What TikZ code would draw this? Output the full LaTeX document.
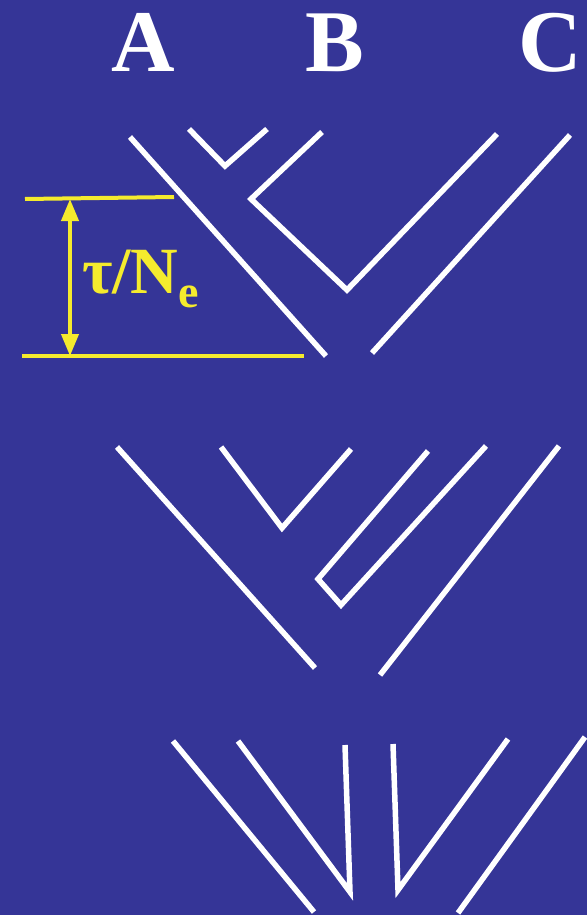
\documentclass[tikz,border=0pt]{standalone}
\usepackage{fontspec}
\setmainfont{Liberation Serif}
\usetikzlibrary{arrows.meta}
\definecolor{bg}{RGB}{53,53,151}
\definecolor{yel}{RGB}{245,235,45}
\tikzset{
  branch/.style={draw=white, line width=5.5pt},
  ybar/.style={draw=yel, line width=4pt},
  head/.style={text=white, font=\fontsize{88}{88}\selectfont\bfseries, inner sep=0pt, anchor=base}
}
\begin{document}
\begin{tikzpicture}[x=1pt,y=-1pt]
\fill[bg] (0,0) rectangle (587,915);
\useasboundingbox (0,0) rectangle (587,915);
% labels
\node[head] (lA) at (143,72) {A};
\node[head] (lB) at (335,72) {B};
\node[head] (lC) at (550,72) {C};
% top tree
\draw[branch] (130,137) -- (326,356);
\draw[branch] (189,129) -- (225,166) -- (267,129);
\draw[branch] (322,132) -- (251,199) -- (347,290) -- (497,134);
\draw[branch] (570,135) -- (372,353);
% scale bar
\draw[ybar] (25,199) -- (174,197);
\draw[ybar] (22,356) -- (304,356);
\coordinate (t1) at (70,199);
\coordinate (t2) at (70,356);
\draw[yel, line width=4pt, {Triangle[width=17pt,length=22pt]}-{Triangle[width=17pt,length=22pt]}] (t1) -- (t2);
\node[text=yel, inner sep=0pt, anchor=base west, font=\fontsize{66}{66}\selectfont\bfseries] (lab) at (82,293) {τ/N\raisebox{-14pt}{\fontsize{46}{46}\selectfont\bfseries e}};
% middle tree
\draw[branch] (117,447) -- (315,668);
\draw[branch] (221,447) -- (282,528) -- (351,449);
\draw[branch] (428,451) -- (318,579) -- (341,605) -- (486,446);
\draw[branch] (559,446) -- (380,675);
% bottom tree
\draw[branch] (173,741) -- (314,912);
\draw[branch] (238,741) -- (350,892) -- (345,745);
\draw[branch] (393,744) -- (398,890) -- (508,739);
\draw[branch] (585,737) -- (458,913);
\end{tikzpicture}
\end{document}
